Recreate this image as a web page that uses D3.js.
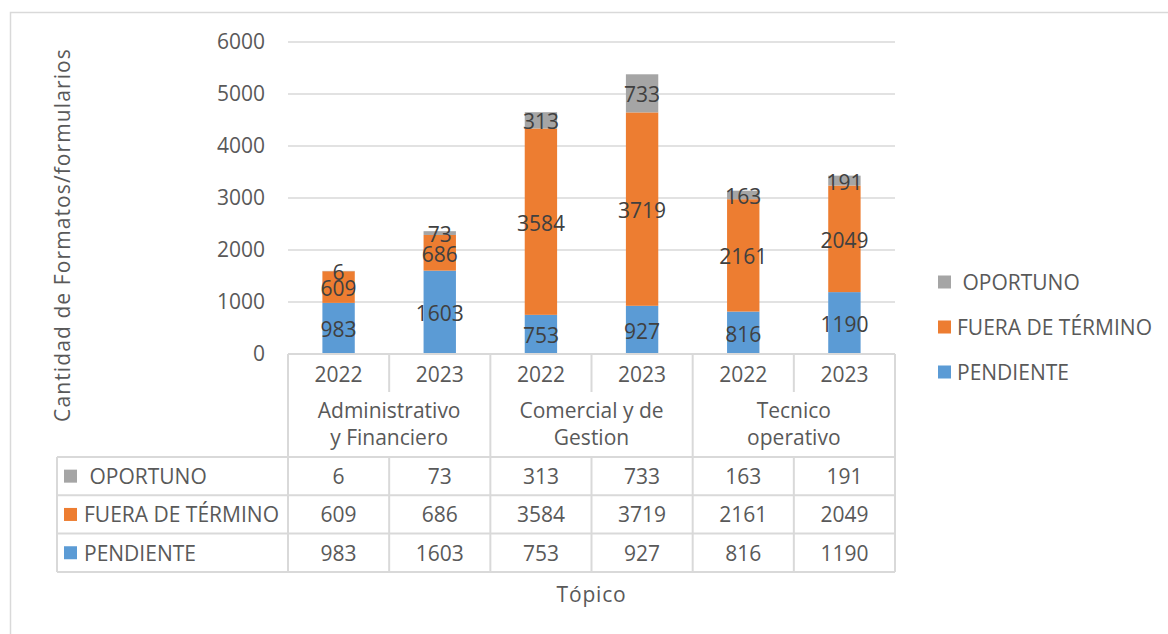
<!DOCTYPE html>
<html>
<head>
<meta charset="utf-8">
<script src="https://cdn.jsdelivr.net/npm/d3@7"></script>
<style>
  html, body { margin: 0; padding: 0; background: #fff; }
  svg { display: block; }
  text { font-family: "Open Sans", Lato, sans-serif; }
</style>
</head>
<body>
<svg id="chart" width="1168" height="634"></svg>
<script>
// ---- data ----
const groups = [["Administrativo", "y Financiero"], ["Comercial y de", "Gestion"], ["Tecnico", "operativo"]];
const years = ["2022", "2023"];
const seriesNames = ["PENDIENTE", "FUERA DE TÉRMINO", "OPORTUNO"];
const pendiente = [983, 1603, 753, 927, 816, 1190];
const fuera = [609, 686, 3584, 3719, 2161, 2049];
const oportuno = [6, 73, 313, 733, 163, 191];
const yTicks = [0, 1000, 2000, 3000, 4000, 5000, 6000];
const colors = ["#5B9BD5", "#ED7D31", "#A5A5A5"];
const yTitle = "Cantidad de Formatos/formularios";
const xTitle = "Tópico";

(function () {
const cats = [];
groups.forEach((g, gi) => years.forEach((y, yi) => cats.push({ key: gi + "-" + y, year: y, group: gi })));
const rows = cats.map((c, i) => ({ key: c.key, PENDIENTE: pendiente[i], "FUERA DE TÉRMINO": fuera[i], OPORTUNO: oportuno[i] }));
const stack = d3.stack().keys(seriesNames)(rows);

const svg = d3.select("#chart");
const pLeft = 288, pRight = 895, pTop = 42, pBottom = 354;
const textColor = "#595959";
const lineColor = "#D9D9D9";
const fs = 21;

svg.append("rect").attr("x", 10.5).attr("y", 12.5).attr("width", 1170).attr("height", 640)
  .attr("fill", "none").attr("stroke", lineColor).attr("stroke-width", 1.5);

const y = d3.scaleLinear().domain([0, 6000]).range([pBottom, pTop]);
const x = d3.scaleBand().domain(cats.map(c => c.key)).range([pLeft, pRight]).padding(0);
const barW = x.bandwidth() * 0.32;

svg.append("g").selectAll("line").data(yTicks.filter(t => t > 0)).join("line")
  .attr("x1", pLeft).attr("x2", pRight).attr("y1", d => y(d)).attr("y2", d => y(d))
  .attr("stroke", lineColor).attr("stroke-width", 1.5);

const yAxis = svg.append("g").attr("transform", `translate(${pLeft},0)`)
  .call(d3.axisLeft(y).tickValues(yTicks).tickSize(0).tickPadding(23).tickFormat(d3.format("d")));
yAxis.select(".domain").remove();
yAxis.selectAll("text").attr("font-size", fs).attr("fill", textColor).attr("font-family", "'Open Sans', sans-serif");

const layer = svg.append("g").selectAll("g").data(stack).join("g").attr("fill", (d, i) => colors[i]);
layer.selectAll("rect").data(d => d).join("rect")
  .attr("x", d => x(d.data.key) + (x.bandwidth() - barW) / 2)
  .attr("width", barW)
  .attr("y", d => y(d[1]))
  .attr("height", d => y(d[0]) - y(d[1]));

const lab = svg.append("g");
stack.forEach((s, si) => {
  lab.append("g").selectAll("text").data(s).join("text")
    .attr("x", d => x(d.data.key) + x.bandwidth() / 2)
    .attr("y", d => (y(d[0]) + y(d[1])) / 2 + 1)
    .attr("text-anchor", "middle").attr("dominant-baseline", "central")
    .attr("font-size", fs).attr("fill", "#404040")
    .text(d => d[1] - d[0]);
});

const g = svg.append("g").attr("stroke", lineColor).attr("stroke-width", 2);
const yearRowBottom = 392, catBottom = 457, rowH = 38.3, tableLeft = 57;
g.append("line").attr("x1", pLeft).attr("x2", pRight).attr("y1", pBottom).attr("y2", pBottom);
cats.forEach((c, i) => {
  const xv = x(c.key);
  const isGroupStart = i % years.length === 0;
  g.append("line").attr("x1", xv).attr("x2", xv).attr("y1", pBottom)
    .attr("y2", isGroupStart ? catBottom + rowH * 3 : yearRowBottom);
  if (!isGroupStart) {
    g.append("line").attr("x1", xv).attr("x2", xv).attr("y1", catBottom).attr("y2", catBottom + rowH * 3);
  }
});
g.append("line").attr("x1", pRight).attr("x2", pRight).attr("y1", pBottom).attr("y2", catBottom + rowH * 3);
for (let r = 0; r <= 3; r++) {
  g.append("line").attr("x1", tableLeft).attr("x2", pRight).attr("y1", catBottom + r * rowH).attr("y2", catBottom + r * rowH);
}
g.append("line").attr("x1", tableLeft).attr("x2", tableLeft).attr("y1", catBottom).attr("y2", catBottom + rowH * 3);

svg.append("g").selectAll("text").data(cats).join("text")
  .attr("x", d => x(d.key) + x.bandwidth() / 2).attr("y", 374)
  .attr("text-anchor", "middle").attr("dominant-baseline", "central")
  .attr("font-size", fs).attr("fill", textColor).text(d => d.year);
groups.forEach((lines, gi) => {
  const cx = x(gi + "-" + years[0]) + x.bandwidth();
  lines.forEach((ln, li) => {
    svg.append("text").attr("x", cx).attr("y", 410 + li * 27)
      .attr("text-anchor", "middle").attr("dominant-baseline", "central")
      .attr("font-size", fs).attr("fill", textColor).text(ln);
  });
});

const tableSeries = [
  { name: " OPORTUNO", vals: oportuno, color: colors[2] },
  { name: "FUERA DE TÉRMINO", vals: fuera, color: colors[1] },
  { name: "PENDIENTE", vals: pendiente, color: colors[0] }
];
tableSeries.forEach((s, r) => {
  const cy = catBottom + r * rowH + rowH / 2;
  svg.append("rect").attr("x", 64).attr("y", cy - 6.5).attr("width", 13).attr("height", 13).attr("fill", s.color);
  svg.append("text").attr("x", 84).attr("y", cy).attr("dominant-baseline", "central")
    .attr("font-size", fs).attr("fill", textColor).style("white-space", "pre").text(s.name);
  svg.append("g").selectAll("text").data(s.vals).join("text")
    .attr("x", (d, i) => x(cats[i].key) + x.bandwidth() / 2).attr("y", cy)
    .attr("text-anchor", "middle").attr("dominant-baseline", "central")
    .attr("font-size", fs).attr("fill", textColor).text(d => d);
});

svg.append("text").attr("transform", "translate(62,235) rotate(-90)")
  .attr("text-anchor", "middle").attr("dominant-baseline", "central")
  .attr("font-size", fs).attr("letter-spacing", 1.1).attr("fill", textColor).text(yTitle);
svg.append("text").attr("x", (pLeft + pRight) / 2).attr("y", 594)
  .attr("text-anchor", "middle").attr("dominant-baseline", "central")
  .attr("font-size", fs).attr("letter-spacing", 0.8).attr("fill", textColor).text(xTitle);

tableSeries.forEach((s, i) => {
  const cy = 282 + i * 45;
  svg.append("rect").attr("x", 938).attr("y", cy - 6.5).attr("width", 13).attr("height", 13).attr("fill", s.color);
  svg.append("text").attr("x", 957).attr("y", cy).attr("dominant-baseline", "central")
    .attr("font-size", fs).attr("fill", textColor).style("white-space", "pre").text(s.name);
});
})();
</script>
</body>
</html>
